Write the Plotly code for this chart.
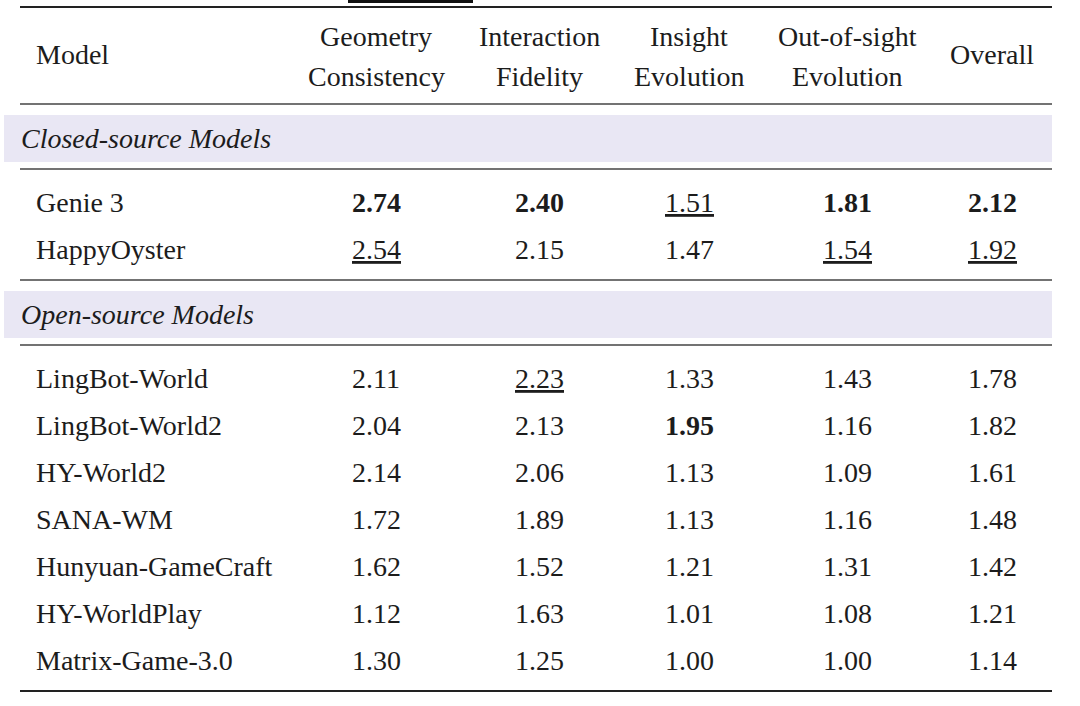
import plotly.graph_objects as go

# table content
header_top = ["", "Geometry", "Interaction", "Insight", "Out-of-sight", ""]
header_bottom = ["", "Consistency", "Fidelity", "Evolution", "Evolution", ""]
header_single = ["Model", "", "", "", "", "Overall"]

closed_models = ["Genie 3", "HappyOyster"]
closed_scores = [
    [2.74, 2.40, 1.51, 1.81, 2.12],
    [2.54, 2.15, 1.47, 1.54, 1.92],
]

open_models = ["LingBot-World", "LingBot-World2", "HY-World2", "SANA-WM",
               "Hunyuan-GameCraft", "HY-WorldPlay", "Matrix-Game-3.0"]
open_scores = [
    [2.11, 2.23, 1.33, 1.43, 1.78],
    [2.04, 2.13, 1.95, 1.16, 1.82],
    [2.14, 2.06, 1.13, 1.09, 1.61],
    [1.72, 1.89, 1.13, 1.16, 1.48],
    [1.62, 1.52, 1.21, 1.31, 1.42],
    [1.12, 1.63, 1.01, 1.08, 1.21],
    [1.30, 1.25, 1.00, 1.00, 1.14],
]

groups = [("Closed-source Models", closed_models, closed_scores),
          ("Open-source Models", open_models, open_scores)]

# layout / style
W, H = 1080, 706
FONT = "'Liberation Serif', 'Times New Roman', Tinos, 'DejaVu Serif', serif"
FS = 28
INK = "#1c1c1c"
BAND = "#e9e7f4"
col_x = [34, 376, 539, 689, 847, 992]
x_left, x_right = 20, 1052
row_h = 47
dy = -1  # small nudge for text baseline

# best = bold, second best = underline (per column, over all models)
all_scores = closed_scores + open_scores
best, second = [], []
for c in range(5):
    vals = sorted({r[c] for r in all_scores}, reverse=True)
    best.append(vals[0])
    second.append(vals[1])


def fmt(v, c):
    s = f"{v:.2f}"
    if v == best[c]:
        return f"<b>{s}</b>"
    if v == second[c]:
        return f"<u>{s}</u>"
    return s


ann = []
shapes = []


def txt(x, y, s, anchor="center", italic=False):
    ann.append(dict(x=x, y=y + dy, xref="x", yref="y", text=s, showarrow=False,
                    xanchor=anchor, yanchor="middle",
                    font=dict(family=FONT, size=FS, color=INK,
                              style="italic" if italic else "normal")))


def rule(y, w, color="#444"):
    shapes.append(dict(type="line", xref="x", yref="y", x0=x_left, x1=x_right,
                       y0=y, y1=y, line=dict(color=color, width=w)))


# little bar cut off at the top edge
shapes.append(dict(type="rect", xref="x", yref="y", x0=348, x1=473, y0=0, y1=3,
                   fillcolor="#111", line=dict(width=0)))

rule(7, 2.2, "#222")
for i in range(6):
    if header_single[i]:
        txt(col_x[i], 55, header_single[i], "left" if i == 0 else "center")
    if header_top[i]:
        txt(col_x[i], 37, header_top[i])
        txt(col_x[i], 77, header_bottom[i])
rule(104, 1.3)

y = 104
for label, models, scores in groups:
    shapes.append(dict(type="rect", xref="x", yref="y", x0=4, x1=x_right,
                       y0=y + 11, y1=y + 58, fillcolor=BAND, line=dict(width=0),
                       layer="below"))
    txt(19, y + 35, label, "left", italic=True)
    rule(y + 65, 1.3)
    y = y + 65 + 34
    for m, row in zip(models, scores):
        txt(col_x[0], y, m, "left")
        for c, v in enumerate(row):
            txt(col_x[c + 1], y, fmt(v, c))
        y += row_h
    y = y - row_h + 30
    if label.startswith("Closed"):
        rule(y, 1.3)

rule(691, 2.2, "#222")

fig = go.Figure()
fig.update_layout(
    width=W, height=H,
    margin=dict(l=0, r=0, t=0, b=0),
    paper_bgcolor="white", plot_bgcolor="white",
    xaxis=dict(range=[0, W], visible=False, fixedrange=True),
    yaxis=dict(range=[H, 0], visible=False, fixedrange=True),
    annotations=ann, shapes=shapes, showlegend=False,
)

fig.write_html("out.html", config={"displayModeBar": False},
               post_script="document.body.style.margin='0';")
